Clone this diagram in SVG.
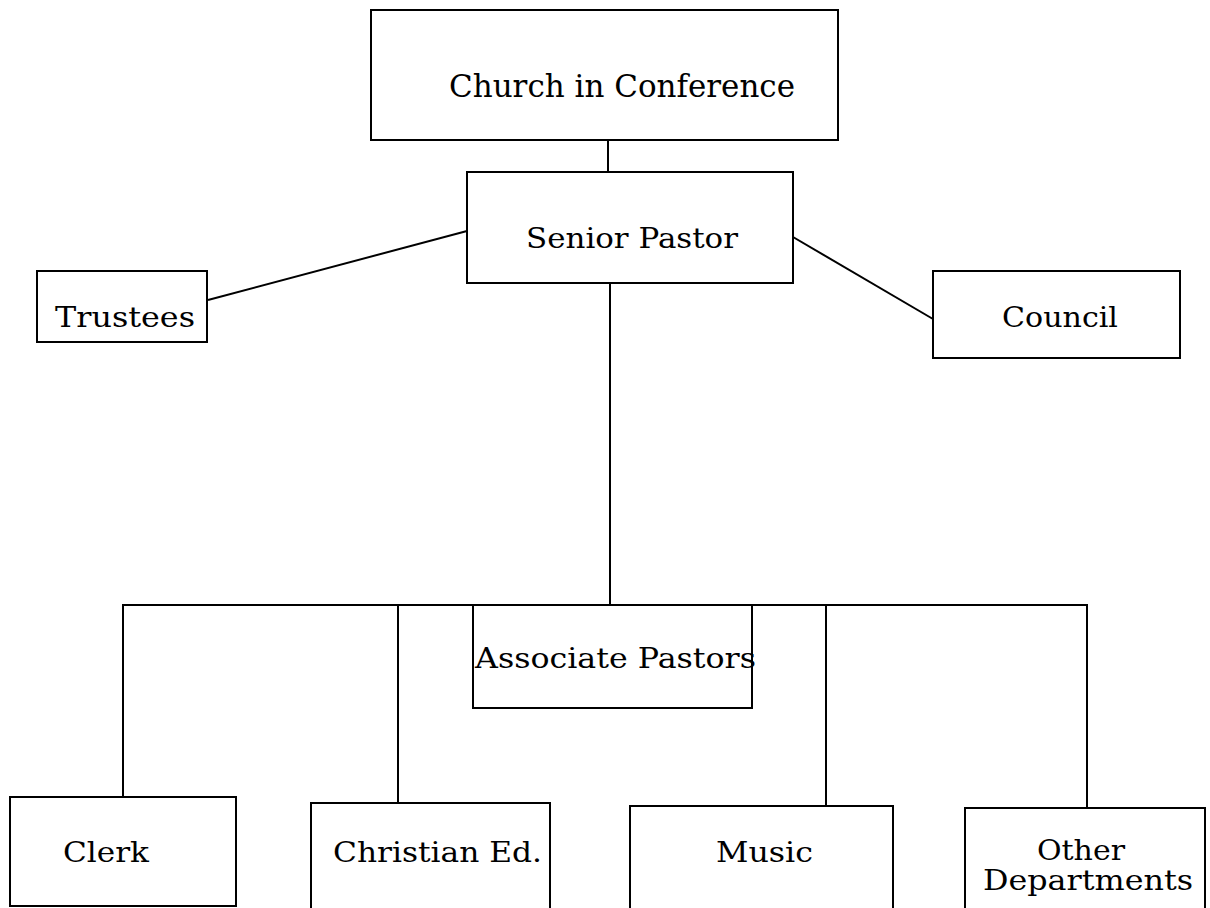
<svg xmlns="http://www.w3.org/2000/svg" width="1210" height="908" viewBox="0 0 1210 908">
<style>
.box{fill:none;stroke:#000;stroke-width:2}
.ln{fill:none;stroke:#000;stroke-width:2}
text{font-family:"DejaVu Serif","Liberation Serif",serif;font-size:28px;fill:#000}
</style>
<rect width="1210" height="908" fill="#fff"/>
<g id="connectors">
<line class="ln" x1="608" y1="140" x2="608" y2="172"/>
<line class="ln" x1="467" y1="231" x2="208" y2="300"/>
<line class="ln" x1="793" y1="237" x2="933" y2="319"/>
<line class="ln" x1="610" y1="283" x2="610" y2="605"/>
<line class="ln" x1="122" y1="605" x2="1088" y2="605"/>
<line class="ln" x1="123" y1="605" x2="123" y2="797"/>
<line class="ln" x1="398" y1="605" x2="398" y2="803"/>
<line class="ln" x1="826" y1="605" x2="826" y2="806"/>
<line class="ln" x1="1087" y1="605" x2="1087" y2="808"/>
</g>
<g id="church">
<rect class="box" x="371" y="10" width="467" height="130"/>
<text x="449" y="97" style="font-size:31px" textLength="346" lengthAdjust="spacingAndGlyphs">Church in Conference</text>
</g>
<g id="senior">
<rect class="box" x="467" y="172" width="326" height="111"/>
<text x="526" y="248" textLength="212" lengthAdjust="spacingAndGlyphs">Senior Pastor</text>
</g>
<g id="trustees">
<rect class="box" x="37" y="271" width="170" height="71"/>
<text x="55" y="327" textLength="140" lengthAdjust="spacingAndGlyphs">Trustees</text>
</g>
<g id="council">
<rect class="box" x="933" y="271" width="247" height="87"/>
<text x="1002" y="327" textLength="116" lengthAdjust="spacingAndGlyphs">Council</text>
</g>
<g id="associate">
<text x="475" y="668" textLength="281" lengthAdjust="spacingAndGlyphs">Associate Pastors</text>
<rect class="box" x="473" y="605" width="279" height="103"/>
</g>
<g id="clerk">
<rect class="box" x="10" y="797" width="226" height="109"/>
<text x="63" y="862" textLength="86" lengthAdjust="spacingAndGlyphs">Clerk</text>
</g>
<g id="christian">
<rect class="box" x="311" y="803" width="239" height="110"/>
<text x="333" y="862" textLength="209" lengthAdjust="spacingAndGlyphs">Christian Ed.</text>
</g>
<g id="music">
<rect class="box" x="630" y="806" width="263" height="110"/>
<text x="716" y="862" textLength="97" lengthAdjust="spacingAndGlyphs">Music</text>
</g>
<g id="other">
<rect class="box" x="965" y="808" width="240" height="110"/>
<text x="1037" y="860" textLength="88" lengthAdjust="spacingAndGlyphs">Other</text>
<text x="983" y="890" textLength="210" lengthAdjust="spacingAndGlyphs">Departments</text>
</g>
</svg>
